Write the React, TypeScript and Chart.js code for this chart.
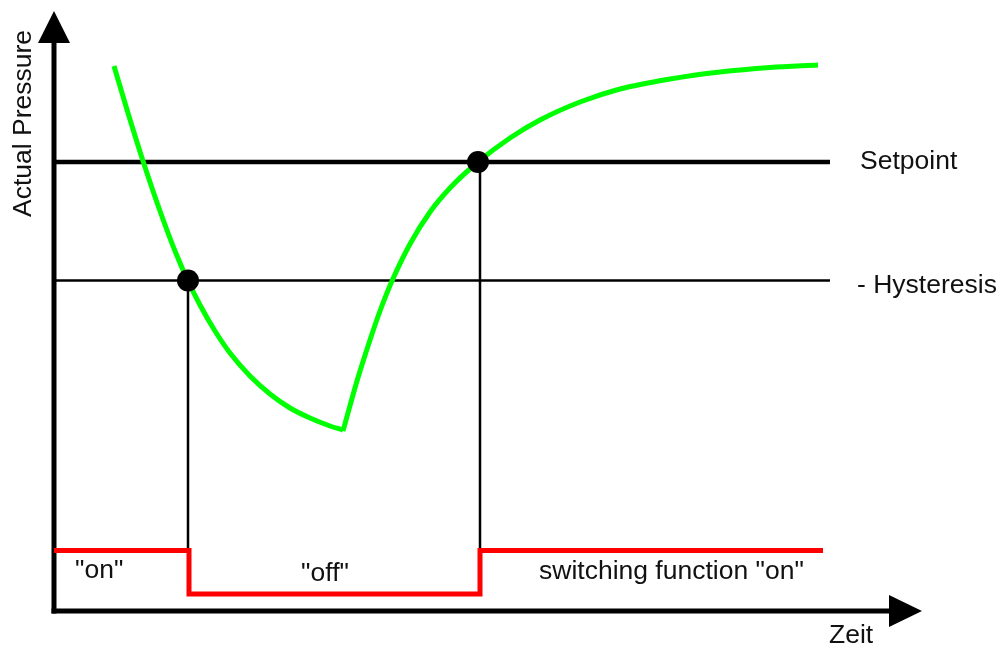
import React, { useEffect, useRef } from "react";
import { Chart, registerables } from "chart.js";

Chart.register(...registerables);

// Coordinate system: time on x (0 = y-axis), pressure on y (0 = time axis)
const X_MIN = -54;
const X_MAX = 949;
const Y_MIN = -35;
const Y_MAX = 611;

// Pressure curve: falling branch (pump off, pressure drops) and rising branch
const fallTime = [60, 74, 89, 106, 121, 134, 146, 161, 176, 196, 216, 236, 256, 276, 289];
const fallPressure = [545, 498, 450, 400, 360, 330, 306, 280, 258, 235, 217, 203, 193, 185, 181];
const riseTime = [289, 303, 316, 326, 338, 356, 376, 396, 424, 456, 486, 526, 566, 616, 666, 716, 764];
const risePressure = [180, 230, 271, 300, 330, 367, 399, 423, 449, 473, 491, 509, 522, 532, 539, 543.5, 546];

// Reference levels
const setpoint = 449;
const hysteresis = 330.5;
const levelEnd = 776;

// Switching instants and switching function
const switchOffTime = 134;
const switchOnTime = 426;
const switchTime = [0, 135, 135, 426, 426, 769];
const switchLevel = [60.5, 60.5, 17, 17, 60.5, 60.5];

// Axes
const yAxisTop = 570;
const xAxisEnd = 837;

const zip = (xs: number[], ys: number[]) => xs.map((x, i) => ({ x, y: ys[i] }));

const FONT = '26.5px "Liberation Sans", Arial, sans-serif';

const labels = [
  { text: "Setpoint", x: 806, y: 442, align: "left" as CanvasTextAlign },
  { text: "- Hysteresis", x: 803, y: 318, align: "left" as CanvasTextAlign },
  { text: '"on"', x: 21, y: 33, align: "left" as CanvasTextAlign },
  { text: '"off"', x: 271, y: 30, align: "center" as CanvasTextAlign },
  { text: 'switching function "on"', x: 485, y: 32, align: "left" as CanvasTextAlign },
  { text: "Zeit", x: 775, y: -32, align: "left" as CanvasTextAlign },
];

const overlayPlugin = {
  id: "overlay",
  afterDatasetsDraw(chart: any) {
    const { ctx, scales } = chart;
    const xs = scales.x;
    const ys = scales.y;
    const px = (v: number) => xs.getPixelForValue(v);
    const py = (v: number) => ys.getPixelForValue(v);
    ctx.save();
    // arrow heads
    ctx.fillStyle = "#000";
    ctx.beginPath();
    ctx.moveTo(px(0), py(600));
    ctx.lineTo(px(-16), py(568));
    ctx.lineTo(px(16), py(568));
    ctx.closePath();
    ctx.fill();
    ctx.beginPath();
    ctx.moveTo(px(868), py(0));
    ctx.lineTo(px(835), py(16));
    ctx.lineTo(px(835), py(-16));
    ctx.closePath();
    ctx.fill();
    // labels
    ctx.font = FONT;
    ctx.fillStyle = "#111";
    ctx.textBaseline = "alphabetic";
    for (const l of labels) {
      ctx.textAlign = l.align;
      ctx.fillText(l.text, px(l.x), py(l.y));
    }
    // y axis title
    ctx.translate(px(-23), py(487.5));
    ctx.rotate(-Math.PI / 2);
    ctx.textAlign = "center";
    ctx.fillText("Actual Pressure", 0, 0);
    ctx.restore();
  },
};

export default function App() {
  const ref = useRef<HTMLCanvasElement | null>(null);
  useEffect(() => {
    if (!ref.current) return;
    const line = (data: any[], color: string, width: number, order: number, extra: any = {}) => ({
      data,
      showLine: true,
      borderColor: color,
      borderWidth: width,
      pointRadius: 0,
      pointHoverRadius: 0,
      fill: false,
      order,
      borderCapStyle: "butt",
      borderJoinStyle: "miter",
      ...extra,
    });
    const chart = new Chart(ref.current, {
      type: "scatter",
      data: {
        datasets: [
          line([{ x: 0, y: -2.5 }, { x: 0, y: yAxisTop }], "#000", 5, 5),
          line([{ x: -2.5, y: 0 }, { x: xAxisEnd, y: 0 }], "#000", 5, 5),
          line([{ x: 0, y: setpoint }, { x: levelEnd, y: setpoint }], "#000", 4.5, 4),
          line([{ x: 0, y: hysteresis }, { x: levelEnd, y: hysteresis }], "#000", 2.5, 4),
          line([{ x: switchOffTime, y: hysteresis }, { x: switchOffTime, y: 60.5 }], "#000", 2.5, 4),
          line([{ x: switchOnTime, y: setpoint }, { x: switchOnTime, y: 60.5 }], "#000", 2.5, 4),
          line(zip(switchTime, switchLevel), "#ff0000", 5, 3),
          line(zip(fallTime, fallPressure), "#00ff00", 5, 2, { tension: 0.4, cubicInterpolationMode: "monotone" }),
          line(zip(riseTime, risePressure), "#00ff00", 5, 2, { tension: 0.4, cubicInterpolationMode: "monotone" }),
          {
            data: [
              { x: switchOffTime, y: hysteresis },
              { x: 424, y: setpoint },
            ],
            showLine: false,
            pointRadius: 11,
            pointHoverRadius: 11,
            pointBackgroundColor: "#000",
            pointBorderWidth: 0,
            order: 1,
          },
        ] as any,
      },
      options: {
        animation: false,
        responsive: false,
        events: [],
        layout: { padding: 0, autoPadding: false },
        plugins: { legend: { display: false }, tooltip: { enabled: false } },
        scales: {
          x: { type: "linear", min: X_MIN, max: X_MAX, display: false },
          y: { type: "linear", min: Y_MIN, max: Y_MAX, display: false },
        },
      },
      plugins: [overlayPlugin],
    });
    return () => chart.destroy();
  }, []);
  return (
    <div style={{ position: "absolute", left: 0, top: 0, width: 1003, height: 646, background: "#fff" }}>
      <canvas ref={ref} width={1003} height={646} style={{ display: "block" }} />
    </div>
  );
}
